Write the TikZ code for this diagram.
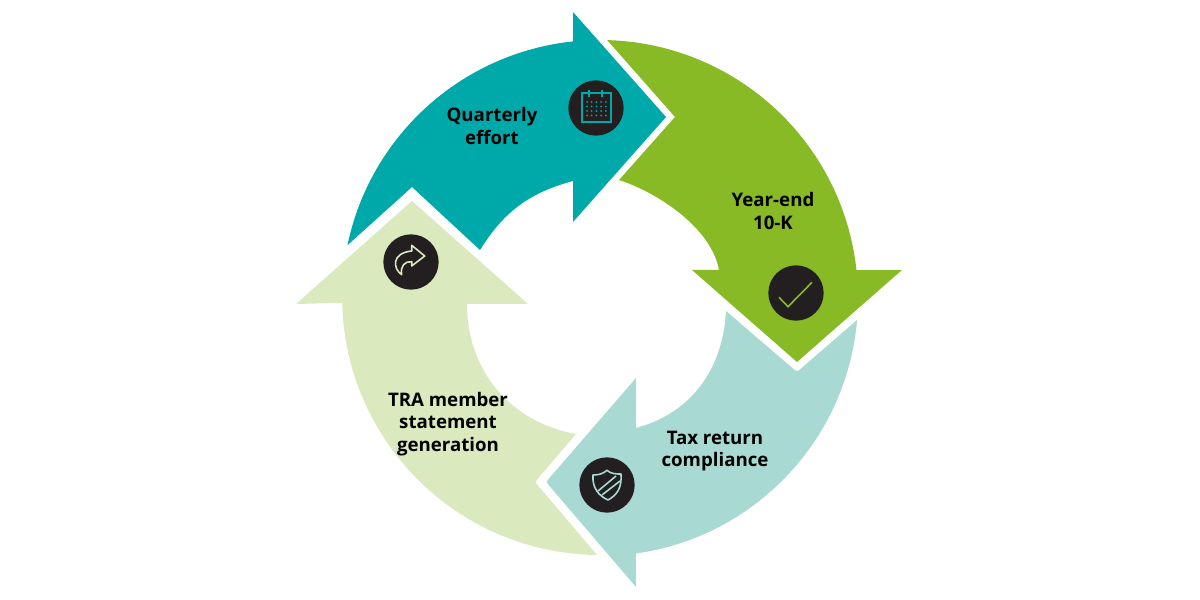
\documentclass[tikz,border=0pt]{standalone}
\usepackage{fontspec}
\setmainfont{Open Sans}
\usetikzlibrary{calc}
\definecolor{tealc}{HTML}{00A9A9}
\definecolor{greenc}{HTML}{87BA25}
\definecolor{bluec}{HTML}{A8D9D2}
\definecolor{palec}{HTML}{DBE9BE}
\definecolor{darkc}{HTML}{231F20}
\tikzset{
  badge/.style={circle,fill=darkc,minimum size=41.5pt,inner sep=0pt},
  label/.style={align=center,font=\fontsize{14pt}{16.8pt}\selectfont\bfseries,text=black,inner sep=0pt},
  icon/.style={line width=1.2pt}
}
\begin{document}
\begin{tikzpicture}[x=0.75pt,y=0.75pt]
  \useasboundingbox (0,0) rectangle (1200,600);
  \coordinate (hub) at (600,302);

  % quarterly arrow
  \fill [tealc] (666,483) -- (573,588) -- ($(hub)+(96:258)$) arc[start angle=96,end angle=168.2,radius=258]
    -- (412,413) -- (480,350) to[out=58,in=195] (573,419) -- (573,378) -- cycle;
  % year-end arrow
  \fill [greenc] ($(hub)+(88.4:258)$) arc[start angle=88.4,end angle=6.2,radius=258]
    -- (902,330) -- (797,238) -- (692,330) -- (719,330) to[out=100,in=-18,looseness=0.8] (619,420) -- (675,483) -- cycle;
  % tax return arrow
  \fill [bluec] ($(hub)+(-4.9:258)$) arc[start angle=-4.9,end angle=-82,radius=258]
    -- (636,13) [rounded corners=2pt] -- (546,118) [sharp corners] -- (636,222) -- (636,172)
    to[out=15,in=-93] (726,289) [rounded corners=2pt] -- (797,228) [sharp corners] -- cycle;
  % TRA arrow
  \fill [palec] (412,399) -- (528,296) -- (467,296) to[out=-90,in=170] (576,166)
    [rounded corners=2pt] -- (535,118) [sharp corners] -- (597,45) arc[start angle=-90.7,end angle=-178.7,radius=258]
    -- (296,296) -- cycle;

  \node [label] (quarterly) at (492,474) {Quarterly\\effort};
  \node [label] (yearend) at (773,389) {Year-end\\10-K};
  \node [label] (taxreturn) at (715,149) {Tax return\\compliance};
  \node [label] (tra) at (448,176) {TRA member\\statement\\generation};

  \node [badge] (calendar) at (596,492) {};
  \node [badge] (check) at (796,307) {};
  \node [badge] (shield) at (607,115) {};
  \node [badge] (share) at (411,338) {};

  % calendar
  \begin{scope}[shift={(calendar.center)}]
    \draw [icon,tealc] (-14,-14) rectangle (15,15);
    \draw [icon,tealc] (-7,11) -- (-7,18) (6,11) -- (6,18);
    \foreach \i in {0,...,4} \foreach \j in {0,...,3}
      \fill [tealc] (-9+\i*4.7,6-\j*4.5) circle (1);
  \end{scope}
  % check
  \draw [line width=1.2pt,greenc,shift={(check.center)}] (-17,-4.3) -- (-8,-13.7) -- (16,10.7);
  % shield
  \begin{scope}[shift={(shield.center)}]
    \draw [icon,bluec,line join=round] (0,14.7) .. controls (4,11) and (9,11) .. (14,11)
      .. controls (15,-3) and (10,-10) .. (1,-15) .. controls (-8,-11) and (-15,-3) .. (-14,10)
      .. controls (-9,10) and (-4,11) .. (0,14.7) -- cycle;
    \draw [icon,bluec] (-9,-6) -- (9,9) (-5,-10) -- (13,4);
  \end{scope}
  % share arrow
  \begin{scope}[shift={(share.center)}]
    \draw [icon,palec,line join=round] (-9.3,-12.7) .. controls (-18,-7) and (-20,9) .. (0.7,11)
      -- (0.7,16.7) -- (13.7,6) -- (0.7,-4) -- (0.7,0.3) .. controls (-6,1) and (-11,-4) .. (-9.3,-12.7) -- cycle;
  \end{scope}
\end{tikzpicture}
\end{document}
